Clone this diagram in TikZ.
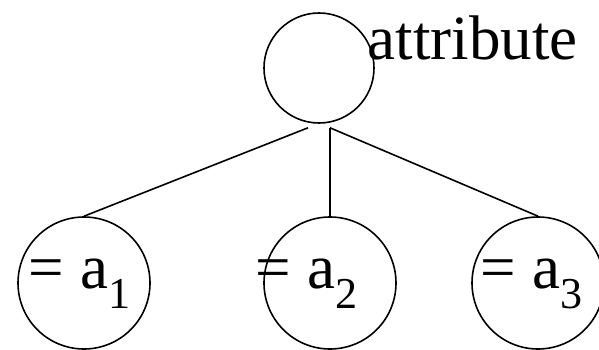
\documentclass[tikz,border=0pt]{standalone}
\usepackage{fontspec}
\setmainfont{Liberation Serif}
\usetikzlibrary{calc}

\begin{document}
\begin{tikzpicture}[x=1pt, y=-1pt, line width=1.6pt,
    attr/.style={circle, draw, minimum size=110pt, inner sep=0pt},
    leaf/.style={circle, draw, minimum size=132pt, inner sep=0pt},
    val/.style={anchor=base west, inner sep=0pt, font=\fontsize{63}{70}\selectfont}]
  \useasboundingbox (0,0) rectangle (599,350);

  % 根：属性
  \node[attr] (root) at (319,68) {};
  \node[val] (name) at (367,60) {attribute};

  % 子：値
  \node[leaf] (c1) at (84,283) {};
  \node[leaf] (c2) at (330,283) {};
  \node[leaf] (c3) at (538,283) {};
  \node[val] (v1) at (28,288) {= a\textsubscript{1}};
  \node[val] (v2) at (255,288) {= a\textsubscript{2}};
  \node[val] (v3) at (480,288) {= a\textsubscript{3}};

  % 枝
  \draw ([xshift=-11pt,yshift=-4pt]root.south) -- (c1.north);
  \draw ([xshift=11pt,yshift=-4pt]root.south) -- (c2.north);
  \draw ([xshift=11pt,yshift=-4pt]root.south) -- (c3.north);
\end{tikzpicture}
\end{document}
